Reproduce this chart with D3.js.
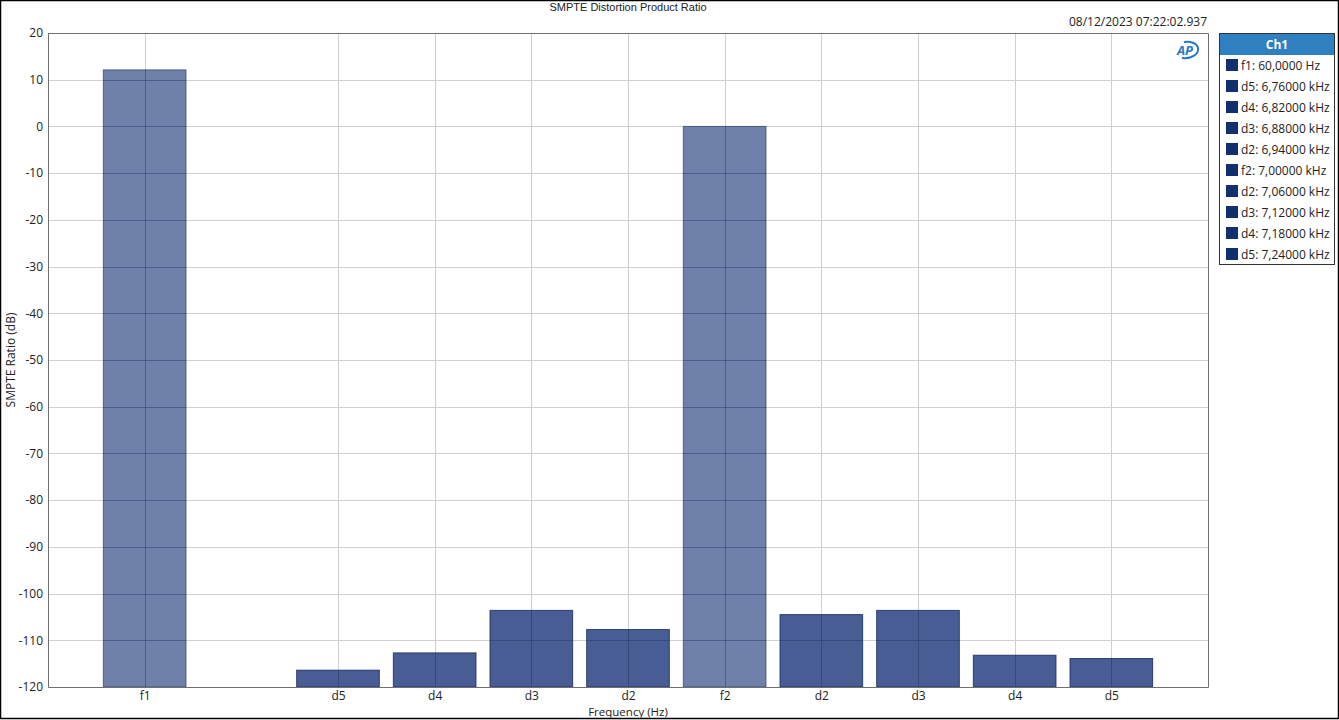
<!DOCTYPE html>
<html><head><meta charset="utf-8">
<script src="https://cdn.jsdelivr.net/npm/d3@7"></script>
<style>body{margin:0;background:#fff}svg{display:block}</style>
</head><body>
<svg id="c" width="1339" height="720"></svg>
<script>
const slots = ["f1", "", "d5", "d4", "d3", "d2", "f2", "d2b", "d3b", "d4b", "d5b"];
const barKeys = ["f1", "d5", "d4", "d3", "d2", "f2", "d2b", "d3b", "d4b", "d5b"];
const tickLabels = ["f1", "d5", "d4", "d3", "d2", "f2", "d2", "d3", "d4", "d5"];
const values = [12.1, -116.4, -112.7, -103.6, -107.7, 0.0, -104.5, -103.6, -113.2, -113.9];
const isFundamental = [true, false, false, false, false, true, false, false, false, false];
const legendLabels = ["f1: 60,0000 Hz", "d5: 6,76000 kHz", "d4: 6,82000 kHz", "d3: 6,88000 kHz", "d2: 6,94000 kHz",
  "f2: 7,00000 kHz", "d2: 7,06000 kHz", "d3: 7,12000 kHz", "d4: 7,18000 kHz", "d5: 7,24000 kHz"];
const yTicks = [20, 10, 0, -10, -20, -30, -40, -50, -60, -70, -80, -90, -100, -110, -120];

const svg = d3.select("#c");
const L = 48, R = 1208, T = 33, B = 687;
const font = "'Segoe UI','Open Sans','Noto Sans',sans-serif";

svg.append("rect").attr("x", 0.5).attr("y", 0.5).attr("width", 1338).attr("height", 718)
  .attr("fill", "#fff").attr("stroke", "#000").attr("stroke-width", 1.5);

const x = d3.scalePoint().domain(slots).range([L, R]).padding(1);
const y = d3.scaleLinear().domain([-120, 20]).range([B, T]);
const barW = x.step() * 0.855;

// grid
const g = svg.append("g");
g.selectAll("line.h").data(yTicks).join("line")
  .attr("x1", L).attr("x2", R).attr("y1", d => Math.round(y(d)) + 0.5).attr("y2", d => Math.round(y(d)) + 0.5)
  .attr("stroke", "#d0d0d0").attr("stroke-width", 1);
g.selectAll("line.v").data(barKeys).join("line")
  .attr("y1", T).attr("y2", B).attr("x1", d => Math.round(x(d)) + 0.5).attr("x2", d => Math.round(x(d)) + 0.5)
  .attr("stroke", "#d0d0d0").attr("stroke-width", 1);

// bars
svg.append("g").selectAll("rect").data(barKeys).join("rect")
  .attr("x", d => x(d) - barW / 2)
  .attr("width", barW)
  .attr("y", (d, i) => y(values[i]))
  .attr("height", (d, i) => y(-120) - y(values[i]))
  .attr("fill", (d, i) => isFundamental[i] ? "rgba(22,50,120,0.62)" : "rgba(25,52,120,0.8)")
  .attr("stroke", (d, i) => isFundamental[i] ? "rgba(40,60,110,0.7)" : "rgba(30,45,100,0.85)")
  .attr("stroke-width", 1);

// grid lines visible through bars
svg.append("g").selectAll("line").data(barKeys).join("line")
  .attr("y1", (d, i) => y(values[i])).attr("y2", B)
  .attr("x1", d => Math.round(x(d)) + 0.5).attr("x2", d => Math.round(x(d)) + 0.5)
  .attr("stroke", "rgba(20,35,80,0.22)");
svg.append("g").selectAll("g").data(barKeys).join("g").each(function (d, i) {
  const top = y(values[i]);
  d3.select(this).selectAll("line").data(yTicks.filter(t => y(t) > top + 1 && t > -120)).join("line")
    .attr("x1", x(d) - barW / 2).attr("x2", x(d) + barW / 2)
    .attr("y1", t => Math.round(y(t)) + 0.5).attr("y2", t => Math.round(y(t)) + 0.5)
    .attr("stroke", "rgba(20,35,80,0.22)");
});

// frame
svg.append("path").attr("d", `M${L + 0.5},${T}V${B + 0.5}H${R + 0.5}V${T + 0.5}H${L + 0.5}`)
  .attr("fill", "none").attr("stroke", "#707070").attr("stroke-width", 1);

// axes
const yAxis = d3.axisLeft(y).tickValues(yTicks).tickSize(0).tickPadding(5).tickFormat(d => String(d));
const ya = svg.append("g").attr("transform", `translate(${L},0)`).call(yAxis);
ya.select(".domain").remove();
ya.selectAll("text").attr("font-family", font).attr("font-size", 12).attr("fill", "#222");

const xAxis = d3.axisBottom(x).tickValues(barKeys).tickSize(0).tickPadding(4)
  .tickFormat(d => tickLabels[barKeys.indexOf(d)]);
const xa = svg.append("g").attr("transform", `translate(0,${B})`).call(xAxis);
xa.select(".domain").remove();
xa.selectAll("text").attr("font-family", font).attr("font-size", 12).attr("fill", "#222");

// titles
svg.append("text").attr("x", 628).attr("y", 11).attr("text-anchor", "middle")
  .attr("font-family", "'Liberation Sans',Arial,sans-serif").attr("font-size", 11).attr("fill", "#222")
  .text("SMPTE Distortion Product Ratio");
svg.append("text").attr("x", 1207).attr("y", 26).attr("text-anchor", "end")
  .attr("font-family", font).attr("font-size", 12).attr("fill", "#222").text("08/12/2023 07:22:02.937");
svg.append("text").attr("x", 628).attr("y", 715.5).attr("text-anchor", "middle")
  .attr("font-family", font).attr("font-size", 11.5).attr("fill", "#222").text("Frequency (Hz)");
svg.append("text").attr("transform", "translate(15,360) rotate(-90)").attr("text-anchor", "middle")
  .attr("font-family", font).attr("font-size", 12).attr("fill", "#222").text("SMPTE Ratio (dB)");

// AP logo
const ap = svg.append("g").attr("transform", "translate(1186,50)");
ap.append("path").attr("d", "M-4,8 C6,9 13,4 12,-2 C11,-7 4,-9 -2,-8").attr("fill", "none")
  .attr("stroke", "#2a78c2").attr("stroke-width", 2);
ap.append("text").attr("x", -1).attr("y", 5).attr("text-anchor", "middle").attr("font-family", font)
  .attr("font-size", 13).attr("font-style", "italic").attr("font-weight", "bold").attr("fill", "#2a78c2").text("AP");

// legend
const lg = svg.append("g");
lg.append("rect").attr("x", 1219.5).attr("y", 33.5).attr("width", 115).attr("height", 231)
  .attr("fill", "#fff").attr("stroke", "#333").attr("stroke-width", 1);
lg.append("rect").attr("x", 1220).attr("y", 34).attr("width", 114).attr("height", 21).attr("fill", "#2f80c0");
lg.append("text").attr("x", 1277).attr("y", 49).attr("text-anchor", "middle").attr("font-family", font)
  .attr("font-size", 12).attr("font-weight", "bold").attr("fill", "#fff").text("Ch1");
const items = lg.selectAll("g.item").data(legendLabels).join("g")
  .attr("transform", (d, i) => `translate(1226,${59 + i * 21})`);
items.append("rect").attr("width", 12).attr("height", 12).attr("fill", "#12306e");
items.append("text").attr("x", 15).attr("y", 10.5).attr("font-family", font).attr("font-size", 12)
  .attr("fill", "#222").text(d => d);
</script>
</body></html>
